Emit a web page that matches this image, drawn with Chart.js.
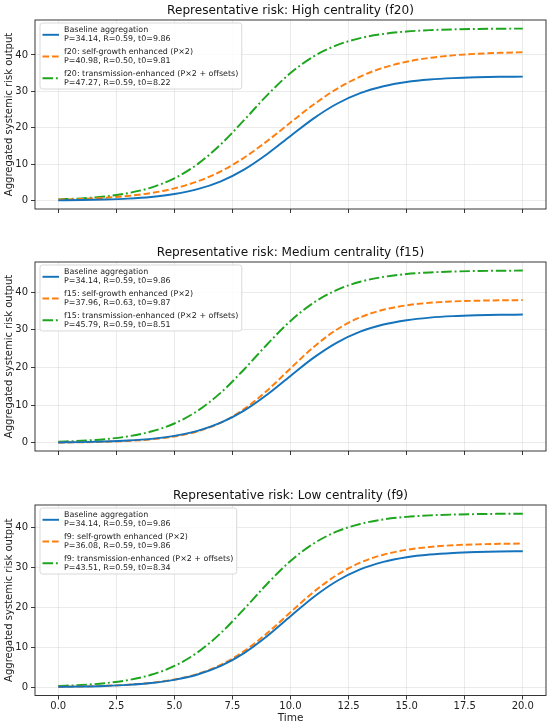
<!DOCTYPE html>
<html><head><meta charset="utf-8">
<script src="https://cdn.jsdelivr.net/npm/chart.js@4.4.0/dist/chart.umd.min.js"></script>
<style>
html,body{margin:0;padding:0;background:#fff;width:550px;height:727px;overflow:hidden;position:relative}
canvas{position:absolute;left:0}
</style></head><body>
<canvas id="c1" width="550" height="240" style="top:0"></canvas>
<canvas id="c2" width="550" height="240" style="top:240px"></canvas>
<canvas id="c3" width="550" height="247" style="top:480px"></canvas>
<script>
const time = [0,1,2,3,4,5,6,7,8,9,10,11,12,13,14,15,16,17,18,19,20];
const baseline = [0.101,0.182,0.328,0.587,1.044,1.837,3.176,5.33,8.55,12.83,17.77,22.61,26.61,29.51,31.41,32.57,33.25,33.64,33.86,33.99,34.05];
const f20Self = [0.302,0.494,0.809,1.317,2.128,3.392,5.31,8.07,11.80,16.40,21.46,26.41,30.71,34.07,36.49,38.13,39.20,39.88,40.31,40.57,40.73];
const f20Trans = [0.367,0.658,1.174,2.077,3.619,6.150,10.04,15.48,22.10,28.98,35.02,39.59,42.68,44.61,45.76,46.42,46.80,47.00,47.12,47.19,47.22];
const f15Self = [0.076,0.142,0.265,0.494,0.918,1.687,3.049,5.347,8.936,13.90,19.76,25.46,30.10,33.32,35.34,36.52,37.18,37.54,37.73,37.84,37.90];
const f15Trans = [0.300,0.539,0.963,1.707,2.991,5.126,8.484,13.32,19.48,26.18,32.36,37.22,40.61,42.77,44.06,44.82,45.25,45.49,45.62,45.70,45.74];
const f9Self = [0.107,0.192,0.347,0.620,1.103,1.941,3.356,5.63,9.04,13.56,18.78,23.89,28.12,31.19,33.19,34.42,35.14,35.55,35.78,35.92,35.98];
const f9Trans = [0.315,0.565,1.009,1.786,3.119,5.321,8.739,13.57,19.57,25.93,31.63,36.01,39.01,40.89,42.02,42.67,43.04,43.25,43.36,43.43,43.47];
const xTicks = [0,2.5,5,7.5,10,12.5,15,17.5,20];
const yTicks = [0,10,20,30,40];
const titles = ["Representative risk: High centrality (f20)","Representative risk: Medium centrality (f15)","Representative risk: Low centrality (f9)"];
const baseLabel = "Baseline aggregation\nP=34.14, R=0.59, t0=9.86";
const f20Labels = ["f20: self-growth enhanced (P×2)\nP=40.98, R=0.50, t0=9.81","f20: transmission-enhanced (P×2 + offsets)\nP=47.27, R=0.59, t0=8.22"];
const f15Labels = ["f15: self-growth enhanced (P×2)\nP=37.96, R=0.63, t0=9.87","f15: transmission-enhanced (P×2 + offsets)\nP=45.79, R=0.59, t0=8.51"];
const f9Labels = ["f9: self-growth enhanced (P×2)\nP=36.08, R=0.59, t0=9.86","f9: transmission-enhanced (P×2 + offsets)\nP=43.51, R=0.59, t0=8.34"];
const yLabel = "Aggregated systemic risk output";
const xLabel = "Time";

const FONT = "'DejaVu Sans', sans-serif";
const BLUE = '#1473bb', ORANGE = '#ff7f0e', GREEN = '#1ea51e';
const DASH = [6.6, 2.9], DASHDOT = [10.5, 2.9, 1.9, 2.9];

function pts(arr){ return time.map((t,i)=>({x:t,y:arr[i]})); }
function ds(label, arr, color, dash){
  return {label, data: pts(arr), borderColor: color, backgroundColor: color, borderWidth: 1.95,
    borderDash: dash, pointRadius: 0, cubicInterpolationMode: 'monotone', fill: false};
}

const decor = {
  id: 'decor',
  afterDraw(chart, args, opts){
    const ctx = chart.ctx, a = chart.chartArea;
    ctx.save();
    ctx.strokeStyle = '#222'; ctx.lineWidth = 0.9; ctx.setLineDash([]);
    ctx.strokeRect(a.left, a.top, a.right - a.left, a.bottom - a.top);
    ctx.fillStyle = '#111';
    ctx.font = '12.1px ' + FONT; ctx.textAlign = 'center'; ctx.textBaseline = 'middle';
    ctx.fillText(opts.title, (a.left + a.right)/2, a.top - 9);
    ctx.save();
    ctx.translate(9.5, (a.top + a.bottom)/2); ctx.rotate(-Math.PI/2);
    ctx.font = '10px ' + FONT; ctx.fillStyle = '#222';
    ctx.fillText(yLabel, 0, 0);
    ctx.restore();
    if (opts.showX){
      ctx.font = '10.5px ' + FONT; ctx.fillStyle = '#222';
      ctx.fillText(xLabel, (a.left + a.right)/2, a.bottom + 23);
    }
    const x0 = a.left + 5, y0 = a.top + 3;
    ctx.font = '7.95px ' + FONT;
    let maxW = 0;
    chart.data.datasets.forEach(d => d.label.split('\n').forEach(l => { maxW = Math.max(maxW, ctx.measureText(l).width); }));
    const w = 24 + maxW + 3.5, h = 66;
    ctx.beginPath();
    if (ctx.roundRect) ctx.roundRect(x0, y0, w, h, 2.5); else ctx.rect(x0, y0, w, h);
    ctx.fillStyle = 'rgba(255,255,255,0.85)'; ctx.fill();
    ctx.strokeStyle = '#cfcfcf'; ctx.lineWidth = 0.8; ctx.stroke();
    const handleY = [11.8, 33.5, 55.2];
    const textY = [[7, 16], [29, 38], [50.5, 59.5]];
    chart.data.datasets.forEach((d, i) => {
      ctx.beginPath();
      ctx.setLineDash(d.borderDash || []);
      ctx.strokeStyle = d.borderColor; ctx.lineWidth = 1.95;
      ctx.moveTo(x0 + 2.5, y0 + handleY[i]); ctx.lineTo(x0 + 19, y0 + handleY[i]);
      ctx.stroke();
      ctx.setLineDash([]);
      ctx.fillStyle = '#222'; ctx.textAlign = 'left'; ctx.textBaseline = 'middle';
      d.label.split('\n').forEach((l, j) => ctx.fillText(l, x0 + 24, y0 + textY[i][j]));
    });
    ctx.restore();
  }
};

function makeChart(id, datasets, ymin, ymax, title, showX, padTop, xH){
  return new Chart(document.getElementById(id), {
    type: 'line',
    data: { datasets },
    plugins: [decor],
    options: {
      responsive: false, animation: false, devicePixelRatio: 1,
      layout: { padding: { top: padTop, right: 4, bottom: 0, left: 0 } },
      plugins: { legend: { display: false }, tooltip: { enabled: false }, title: { display: false },
        decor: { title, showX } },
      scales: {
        x: {
          type: 'linear', min: -1, max: 21,
          afterBuildTicks: s => { s.ticks = xTicks.map(v => ({value: v})); },
          afterFit: s => { s.height = xH; },
          border: { display: false },
          grid: { color: 'rgba(176,176,176,0.32)', lineWidth: 0.8, drawTicks: true, tickLength: 4, tickColor: '#222', tickWidth: 0.9 },
          ticks: { display: showX, autoSkip: false, maxRotation: 0, padding: 1, color: '#222',
            font: { family: FONT, size: 10 }, callback: v => Number(v).toFixed(1) }
        },
        y: {
          min: ymin, max: ymax,
          afterBuildTicks: s => { s.ticks = yTicks.map(v => ({value: v})); },
          afterFit: s => { s.width = 35; },
          border: { display: false },
          grid: { color: 'rgba(176,176,176,0.32)', lineWidth: 0.8, drawTicks: true, tickLength: 4, tickColor: '#222', tickWidth: 0.9 },
          ticks: { autoSkip: false, padding: 3, color: '#222', font: { family: FONT, size: 10 },
            callback: v => String(v) }
        }
      }
    }
  });
}

makeChart('c1', [ds(baseLabel, baseline, BLUE, []), ds(f20Labels[0], f20Self, ORANGE, DASH), ds(f20Labels[1], f20Trans, GREEN, DASHDOT)],
  -2.26, 49.58, titles[0], false, 20, 31);
makeChart('c2', [ds(baseLabel, baseline, BLUE, []), ds(f15Labels[0], f15Self, ORANGE, DASH), ds(f15Labels[1], f15Trans, GREEN, DASHDOT)],
  -2.18, 48.02, titles[1], false, 22, 29);
makeChart('c3', [ds(baseLabel, baseline, BLUE, []), ds(f9Labels[0], f9Self, ORANGE, DASH), ds(f9Labels[1], f9Trans, GREEN, DASHDOT)],
  -2.07, 45.64, titles[2], true, 25, 31.5);
</script>
</body></html>
